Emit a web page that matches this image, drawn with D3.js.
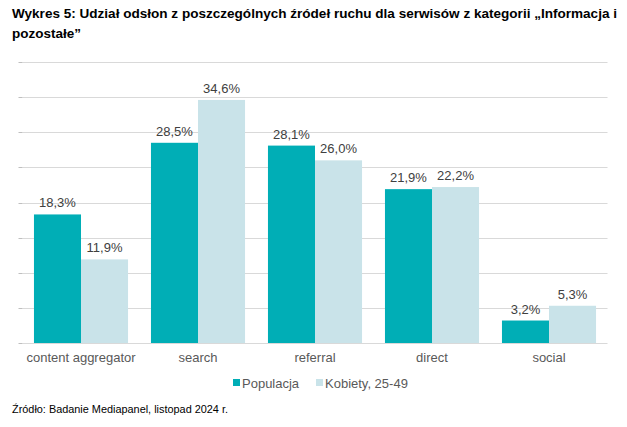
<!DOCTYPE html>
<html><head><meta charset="utf-8">
<script src="https://cdn.jsdelivr.net/npm/d3@7"></script>
<style>body{margin:0;background:#fff}svg{display:block}</style>
</head><body>
<script>
const categories = ["content aggregator","search","referral","direct","social"];
const seriesNames = ["Populacja","Kobiety, 25-49"];
const populacja = [18.3,28.5,28.1,21.9,3.2];
const kobiety = [11.9,34.6,26.0,22.2,5.3];
const yTicks = [0,5,10,15,20,25,30,35,40];
const colors = ["#00aeb6","#c9e3e9"];
const fmt = v => v.toFixed(1).replace(".", ",") + "%";

const W = 627, H = 427;
const svg = d3.select("body").append("svg").attr("width", W).attr("height", H);
const plotLeft = 22.5, plotRight = 607.5, plotTop = 62, plotBottom = 343;

svg.append("text").attr("x", 12).attr("y", 18)
  .attr("font-family", "Liberation Sans, Arial, sans-serif").attr("font-weight", "bold")
  .attr("font-size", 13).attr("fill", "#000")
  .attr("textLength", 605).attr("lengthAdjust", "spacingAndGlyphs")
  .text("Wykres 5: Udział odsłon z poszczególnych źródeł ruchu dla serwisów z kategorii „Informacja i");
svg.append("text").attr("x", 12).attr("y", 38)
  .attr("font-family", "Liberation Sans, Arial, sans-serif").attr("font-weight", "bold")
  .attr("font-size", 13).attr("fill", "#000")
  .attr("textLength", 69).attr("lengthAdjust", "spacingAndGlyphs")
  .text("pozostałe”");

const y = d3.scaleLinear().domain([0, 40]).range([plotBottom, plotTop]);
const x0 = d3.scaleBand().domain(categories).range([plotLeft, plotRight]).paddingInner(0.196).paddingOuter(0.098);
const x1 = d3.scaleBand().domain(seriesNames).range([0, x0.bandwidth()]);

const grid = svg.append("g");
grid.selectAll("line.g").data(yTicks).join("line").attr("class","g")
  .attr("x1", plotLeft).attr("x2", plotRight).attr("y1", d => Math.round(y(d))+0.5).attr("y2", d => Math.round(y(d))+0.5)
  .attr("stroke", "#d9d9d9").attr("stroke-width", 1);
grid.selectAll("line.t").data(yTicks).join("line").attr("class","t")
  .attr("x1", plotLeft-4).attr("x2", plotLeft).attr("y1", d => Math.round(y(d))+0.5).attr("y2", d => Math.round(y(d))+0.5)
  .attr("stroke", "#bfbfbf").attr("stroke-width", 1);

const data = categories.map((c, i) => ({c, vals: [populacja[i], kobiety[i]]}));
const groups = svg.append("g").selectAll("g").data(data).join("g")
  .attr("transform", d => `translate(${x0(d.c)},0)`);
groups.selectAll("rect").data(d => d.vals.map((v, j) => ({v, s: seriesNames[j], j}))).join("rect")
  .attr("x", d => x1(d.s)).attr("width", x1.bandwidth())
  .attr("y", d => y(d.v)).attr("height", d => y(0) - y(d.v))
  .attr("fill", d => colors[d.j]);
groups.selectAll("text").data(d => d.vals.map((v, j) => ({v, s: seriesNames[j], j}))).join("text")
  .attr("x", d => x1(d.s) + x1.bandwidth()/2).attr("y", d => y(d.v) - 7)
  .attr("text-anchor", "middle").attr("font-family", "Liberation Sans, Arial, sans-serif")
  .attr("font-size", 13).attr("fill", "#404040").text(d => fmt(d.v));

svg.append("g").selectAll("text").data(categories).join("text")
  .attr("x", d => x0(d) + x0.bandwidth()/2).attr("y", 362)
  .attr("text-anchor", "middle").attr("font-family", "Liberation Sans, Arial, sans-serif")
  .attr("font-size", 13).attr("fill", "#595959").text(d => d);

const legendX = [233, 316];
const lg = svg.append("g").selectAll("g").data(seriesNames).join("g")
  .attr("transform", (d, i) => `translate(${legendX[i]},0)`);
lg.append("rect").attr("x", 0).attr("y", 379).attr("width", 7).attr("height", 7).attr("fill", (d, i) => colors[i]);
lg.append("text").attr("x", 9).attr("y", 388).attr("font-family", "Liberation Sans, Arial, sans-serif")
  .attr("font-size", 13).attr("fill", "#595959").text(d => d);

svg.append("text").attr("x", 12).attr("y", 413)
  .attr("font-family", "Liberation Sans, Arial, sans-serif").attr("font-size", 11).attr("fill", "#000")
  .attr("textLength", 216).attr("lengthAdjust", "spacingAndGlyphs")
  .text("Źródło: Badanie Mediapanel, listopad 2024 r.");
</script>
</body></html>
